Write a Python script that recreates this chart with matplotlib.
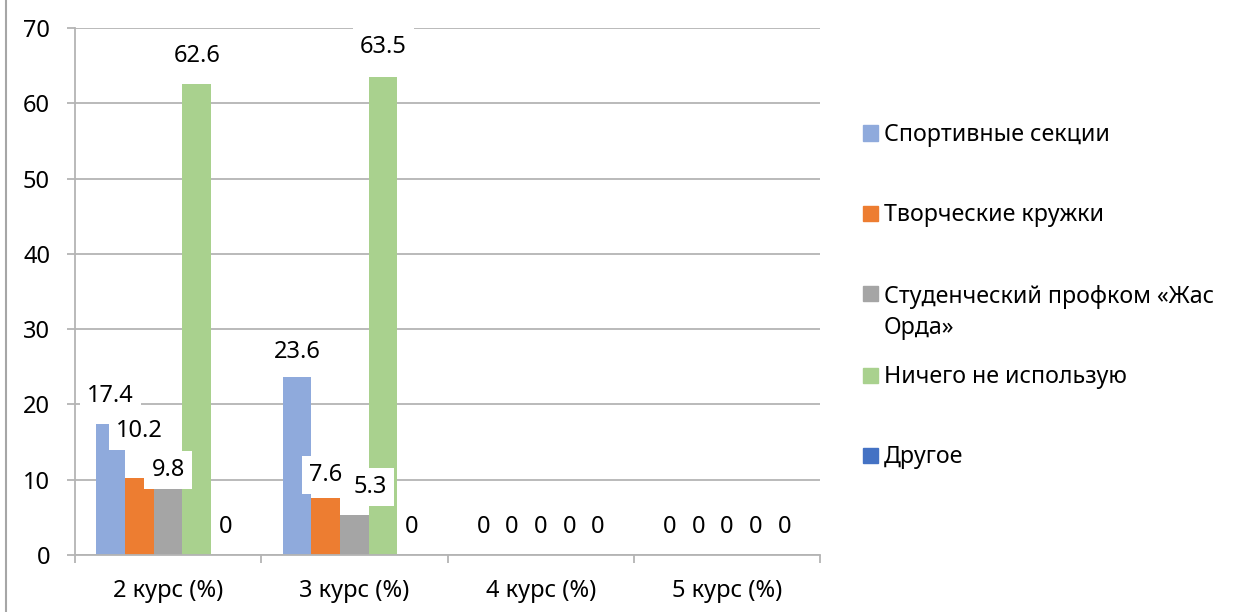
import matplotlib.pyplot as plt
import numpy as np
from matplotlib.patches import Rectangle
from matplotlib.lines import Line2D

plt.rcParams['font.family'] = ['Noto Sans', 'DejaVu Sans']

# data
courses = ['2 курс (%)', '3 курс (%)', '4 курс (%)', '5 курс (%)']
series_names = ['Спортивные секции', 'Творческие кружки',
                'Студенческий профком «Жас\nОрда»', 'Ничего не использую', 'Другое']
sport = [17.4, 23.6, 0, 0]
creative = [10.2, 7.6, 0, 0]
profcom = [9.8, 5.3, 0, 0]
nothing = [62.6, 63.5, 0, 0]
other = [0, 0, 0, 0]
series = [sport, creative, profcom, nothing, other]
colors = ['#8FAADC', '#ED7D31', '#A5A5A5', '#A9D18E', '#4472C4']

W, H = 1233, 612
GRID = '#B4B4B4'
FS = 17

# label offsets above bar top (pixels), Excel labels were nudged by hand
label_dy = {(1, 0): 47, (2, 0): 11, (0, 1): 25, (1, 1): 23, (3, 1): 30}
label_dx = {(2, 1): 16}

fig = plt.figure(figsize=(W / 100, H / 100), dpi=100)
ax = fig.add_axes([75 / W, 1 - 555 / H, (820 - 75) / W, (555 - 28) / H])

width = 0.154
x = np.arange(len(courses))
for i, (vals, col) in enumerate(zip(series, colors)):
    ax.bar(x + (i - 2) * width, vals, width, color=col, zorder=2)

for i, vals in enumerate(series):
    for j, v in enumerate(vals):
        dy = label_dy.get((i, j), 28) * 0.72
        dx = label_dx.get((i, j), 0) * 0.72
        ax.annotate(f'{v:g}', (x[j] + (i - 2) * width, v), xytext=(dx, dy),
                    textcoords='offset points', ha='center', va='center',
                    fontsize=FS, zorder=5,
                    bbox=dict(boxstyle='square,pad=0.3', fc='white', ec='none'))

ax.set_xlim(-0.5, 3.5)
ax.set_ylim(0, 70)
ax.set_yticks(range(0, 71, 10))
ax.yaxis.grid(True, color=GRID, lw=1.3)
ax.set_axisbelow(True)
for s in ['top', 'right']:
    ax.spines[s].set_visible(False)
for s in ['left', 'bottom']:
    ax.spines[s].set_color(GRID)
    ax.spines[s].set_linewidth(1.3)

ax.set_xticks(np.arange(-0.5, 3.6, 1))
ax.set_xticklabels([])
ax.set_xticks(x, minor=True)
ax.set_xticklabels(courses, minor=True, fontsize=FS)
ax.tick_params(axis='x', which='major', length=6, width=1.3, color=GRID)
ax.tick_params(axis='x', which='minor', length=0, pad=17)
ax.tick_params(axis='y', length=6, width=1.3, color=GRID, labelsize=FS, pad=12)

# legend drawn by hand to keep Excel's spacing
legend_y = [133, 213, 293, 375, 455]
for name, col, ypx in zip(series_names, colors, legend_y):
    fig.add_artist(Rectangle((863 / W, 1 - (ypx + 7.5) / H), 15 / W, 15 / H,
                             transform=fig.transFigure, color=col))
    extra = 33 * name.count('\n')
    fig.text(884 / W, 1 - (ypx + 8 + extra) / H, name, va='baseline', ha='left',
             fontsize=16.7, linespacing=1.4)

# frame edge on the left
fig.add_artist(Line2D([5.5 / W, 5.5 / W], [0, 1], transform=fig.transFigure,
                      color='#A6A6A6', lw=1.5))

plt.savefig('out.png', dpi=100)
